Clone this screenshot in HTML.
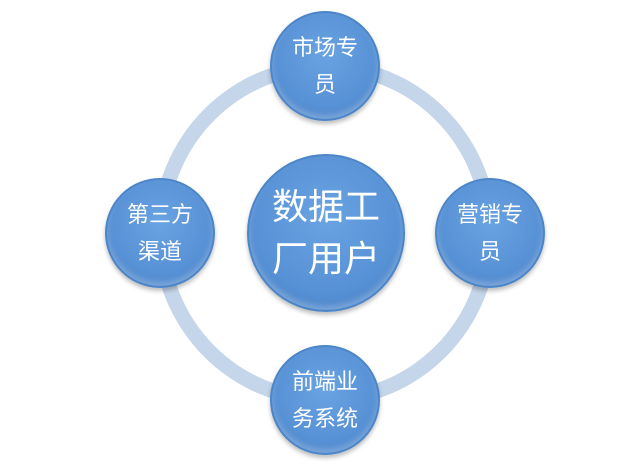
<!DOCTYPE html>
<html><head><meta charset="utf-8"><style>
body{margin:0;width:640px;height:467px;background:#fff;overflow:hidden;position:relative;font-family:"Liberation Sans","Noto Sans CJK SC",sans-serif}
.ring{position:absolute;box-sizing:border-box;border:15px solid #c5d5ea;border-radius:50%;left:153px;top:59px;width:344px;height:348px}
.n{position:absolute;border-radius:50%;color:#fff;text-align:center;display:flex;align-items:center;justify-content:center;
background:radial-gradient(circle at 50% 40%,#6aa3e2 0%,#5892d6 60%,#4a82c6 85%,#3a6fb3 100%);
box-shadow:0 3px 4px rgba(0,0,0,0.25), inset 0 -4px 6px rgba(255,255,255,0.25);border:2px solid #4d86c8;box-sizing:border-box}
.s{width:110px;height:110px;font-size:22px;line-height:37px}
</style></head><body>
<div class="ring"></div>
<div class="n" style="left:247px;top:154px;width:158px;height:158px;font-size:36px;line-height:52px">数据工<br>厂用户</div>
<div class="n s" style="left:270px;top:11px">市场专<br>员</div>
<div class="n s" style="left:435px;top:178px">营销专<br>员</div>
<div class="n s" style="left:105px;top:178px">第三方<br>渠道</div>
<div class="n s" style="left:270px;top:345px">前端业<br>务系统</div>
</body></html>
